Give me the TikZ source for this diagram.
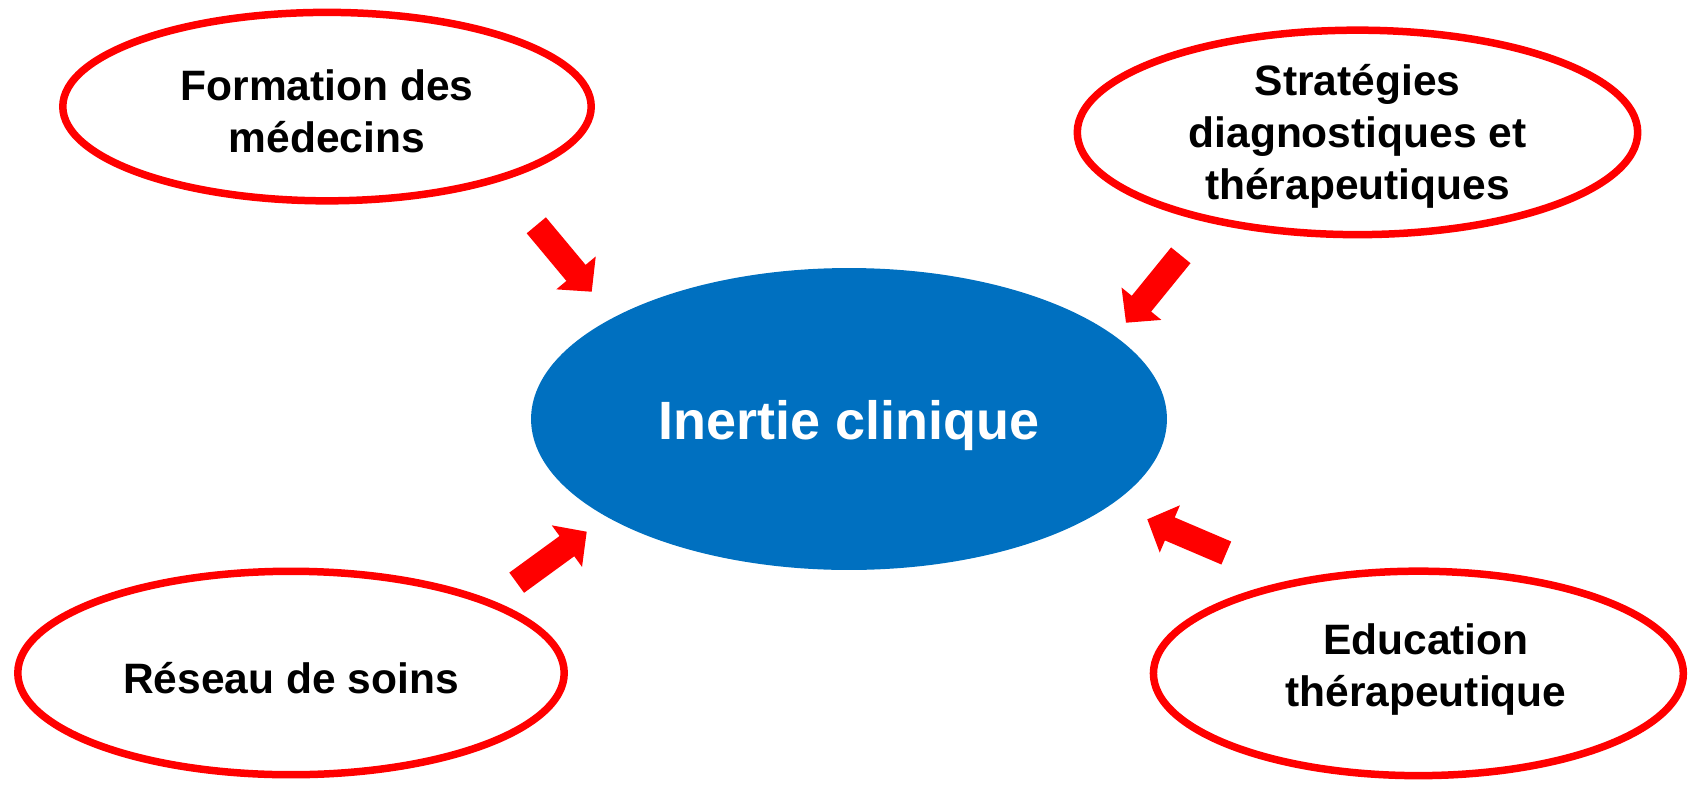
\documentclass[tikz,border=0pt]{standalone}
\usepackage{fontspec}
\setmainfont{Liberation Sans}
\usetikzlibrary{shapes.geometric,calc}

\definecolor{ringred}{RGB}{255,0,0}
\definecolor{coreblue}{RGB}{0,112,192}

% Block arrow from a tail coordinate to a tip coordinate
\newcommand\blockarrow[2]{%
  \coordinate (#1n) at ($(#2)!0.49cm!(#1)$);
  \fill[ringred] ($(#1)!0.25cm!90:(#2)$) -- ($(#1n)!0.25cm!90:(#2)$)
    -- ($(#1n)!0.514cm!90:(#2)$) -- (#2) -- ($(#1n)!0.514cm!-90:(#2)$)
    -- ($(#1n)!0.25cm!-90:(#2)$) -- ($(#1)!0.25cm!-90:(#2)$) -- cycle;}

\tikzset{
  factor/.style={ellipse, draw=ringred, line width=0.15cm, fill=white,
    inner sep=0pt},
  factortext/.style={inner sep=0pt, align=center, text=black,
    font=\fontsize{24.2}{29.6}\selectfont\bfseries},
  core/.style={ellipse, fill=coreblue, inner sep=0pt,
    minimum width=12.72cm, minimum height=6.04cm},
  coretext/.style={inner sep=0pt, text=white,
    font=\fontsize{30.7}{36}\selectfont\bfseries},
}

\begin{document}
\begin{tikzpicture}[x=0.02cm, y=-0.02cm]
  \useasboundingbox (0,0) rectangle (1688,785);

  \node[core] (inertie) at (849,419) {};
  \node[coretext] (inertie-t) at ([yshift=-0.13cm]inertie.center) {Inertie clinique};

  \node[factor, minimum width=10.57cm, minimum height=3.77cm] (formation)
    at (327,106.6) {};
  \node[factortext] (formation-t) at ([yshift=-0.086cm]formation.center)
    {Formation des\\médecins};

  \node[factor, minimum width=11.21cm, minimum height=4.09cm] (strategies)
    at (1357.5,132.4) {};
  \node[factortext] (strategies-t) at ([yshift=-0.086cm]strategies.center)
    {Stratégies\\diagnostiques et\\thérapeutiques};

  \node[factor, minimum width=10.93cm, minimum height=4.07cm] (reseau)
    at (291,673) {};
  \node[factortext] (reseau-t) at ([yshift=-0.108cm]reseau.center)
    {Réseau de soins};

  \node[factor, minimum width=10.60cm, minimum height=4.09cm] (education)
    at (1418.4,673.4) {};
  \node[factortext] (education-t) at ([xshift=0.15cm,yshift=0.086cm]education.center)
    {Education\\thérapeutique};

  % arrow ends
  \coordinate (t1) at (536.3,225.3);  \coordinate (h1) at (591.7,291.7);
  \coordinate (t2) at (1180.8,255.3); \coordinate (h2) at (1126,322.7);
  \coordinate (t3) at (516.7,582.7);  \coordinate (h3) at (586.7,531.7);
  \coordinate (t4) at (1226.3,553);   \coordinate (h4) at (1147.3,519.3);

  \blockarrow{t1}{h1}
  \blockarrow{t2}{h2}
  \blockarrow{t3}{h3}
  \blockarrow{t4}{h4}
\end{tikzpicture}
\end{document}
